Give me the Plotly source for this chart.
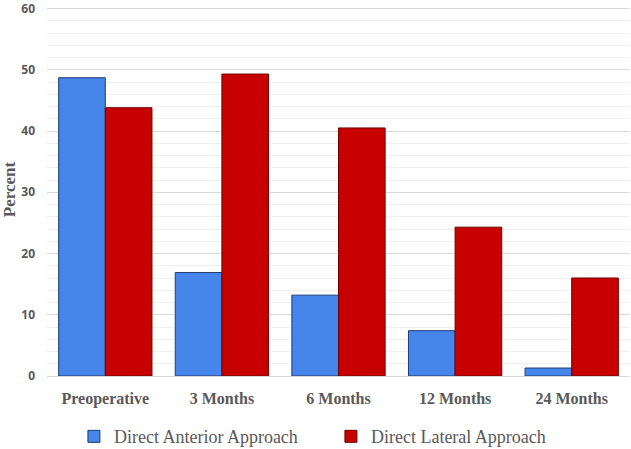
import plotly.graph_objects as go

categories = ["Preoperative", "3 Months", "6 Months", "12 Months", "24 Months"]
anterior = [48.7, 16.9, 13.2, 7.4, 1.3]
lateral = [43.8, 49.3, 40.5, 24.3, 16.0]
series_names = ["Direct Anterior Approach", "Direct Lateral Approach"]
y_ticks = [0, 10, 20, 30, 40, 50, 60]

fig = go.Figure()
fig.add_trace(go.Bar(x=categories, y=anterior, name=series_names[0],
                     marker=dict(color="#4685EA", line=dict(color="#1F3C78", width=1))))
fig.add_trace(go.Bar(x=categories, y=lateral, name=series_names[1],
                     marker=dict(color="#C70000", line=dict(color="#6E0000", width=1))))

fig.update_layout(
    width=631, height=449,
    margin=dict(l=47, r=1, t=3, b=73, autoexpand=False),
    paper_bgcolor="white", plot_bgcolor="white",
    barmode="group", bargap=0.2, bargroupgap=0,
    showlegend=True,
    legend=dict(orientation="h", x=0.487, xanchor="center", y=-0.113, yanchor="top",
                font=dict(family="Liberation Serif", size=18, color="#595959"),
                entrywidth=212, itemwidth=30),
    font=dict(family="Liberation Serif"),
)
fig.update_xaxes(
    tickfont=dict(family="Liberation Serif", size=16, color="#595959", weight="bold"),
    showgrid=False, showline=True, linecolor="#d9d9d9", linewidth=1,
    ticks="", ticklabelstandoff=8, automargin=False,
)
fig.update_yaxes(
    range=[0, 60.9], tickvals=y_ticks,
    tickfont=dict(family="Open Sans", size=12, color="#595959", weight="bold"),
    showgrid=True, gridcolor="#d9d9d9", gridwidth=1,
    minor=dict(dtick=2, showgrid=True, gridcolor="#f0f0f0", gridwidth=1),
    zeroline=False, ticks="", ticklabelstandoff=11, automargin=False,
    ticklabeloverflow="allow",
    title=dict(text="Percent", font=dict(family="Liberation Serif", size=17, color="#595959", weight="bold")),
)
fig.write_html("out.html", config={"displayModeBar": False},
               post_script="document.body.style.margin='0';")
